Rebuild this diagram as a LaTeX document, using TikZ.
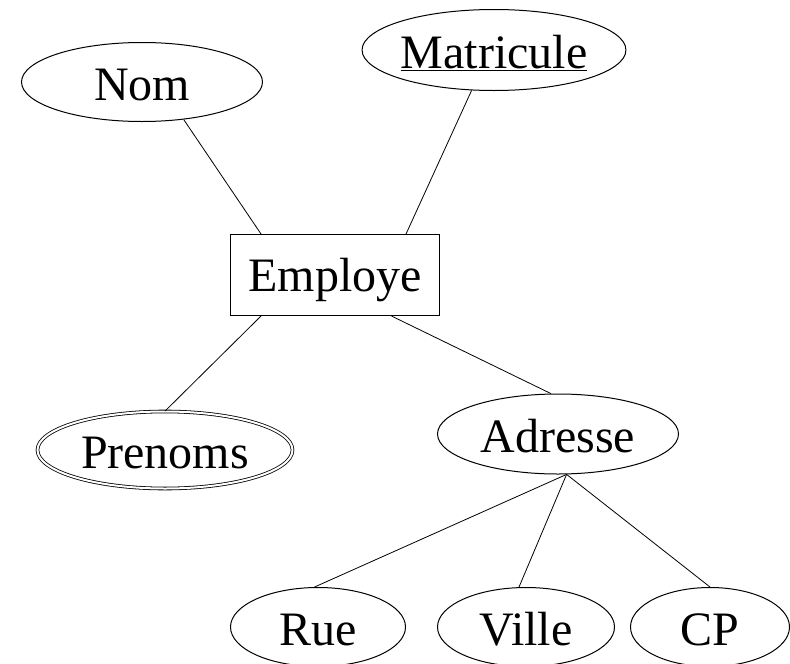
\documentclass[tikz,border=0pt]{standalone}
\usepackage{fontspec}
\setmainfont{Liberation Serif}
\usetikzlibrary{shapes, positioning}
\tikzset{entity/.style={draw, rectangle, inner sep=0pt, line width=1pt, minimum height=81pt, minimum width=209pt,
                        text height=36pt, text depth=4pt},
         attr/.style={draw, ellipse, inner sep=0pt, line width=1pt, minimum height=79pt,
                      text height=38pt, text depth=2pt},
         multi/.style={attr, double, double distance=2pt, line width=0.8pt},
         link/.style={line width=0.8pt}}

\begin{document}
\begin{tikzpicture}[x=1pt, y=-1pt, font=\fontsize{48}{48}\selectfont]
        \useasboundingbox (0,0) rectangle (790,664);
        \node[entity] (emp) at (335,275) {Employe};
        \node[attr, minimum width=241pt] (nom) at (142,82) {Nom};
        \node[attr, minimum width=240pt, minimum height=81pt] (mat) at (494,50) {\underline{Matricule}};
        \node[multi, minimum width=255pt, minimum height=77pt] (pre) at (165,450) {Prenoms};
        \node[attr, minimum width=241pt, minimum height=80pt] (adr) at (558,434) {Adresse};
        \node[attr, minimum width=175pt] (rue) at (318,627) {Rue};
        \node[attr, minimum width=177pt] (ville) at (526,627) {Ville};
        \node[attr, minimum width=159pt] (cp) at (710,627) {CP};

        \draw[link] (nom.-42) -- (emp.151);
        \draw[link] (mat.241) -- (emp.30);
        \draw[link] (emp.209) -- (pre.north);
        \draw[link] (emp.-36) -- (adr.100);
        \draw[link] (adr.-78) -- (rue.95);
        \draw[link] (adr.-78) -- (ville.100);
        \draw[link] (adr.-78) -- (cp.north);
    \end{tikzpicture}
\end{document}
